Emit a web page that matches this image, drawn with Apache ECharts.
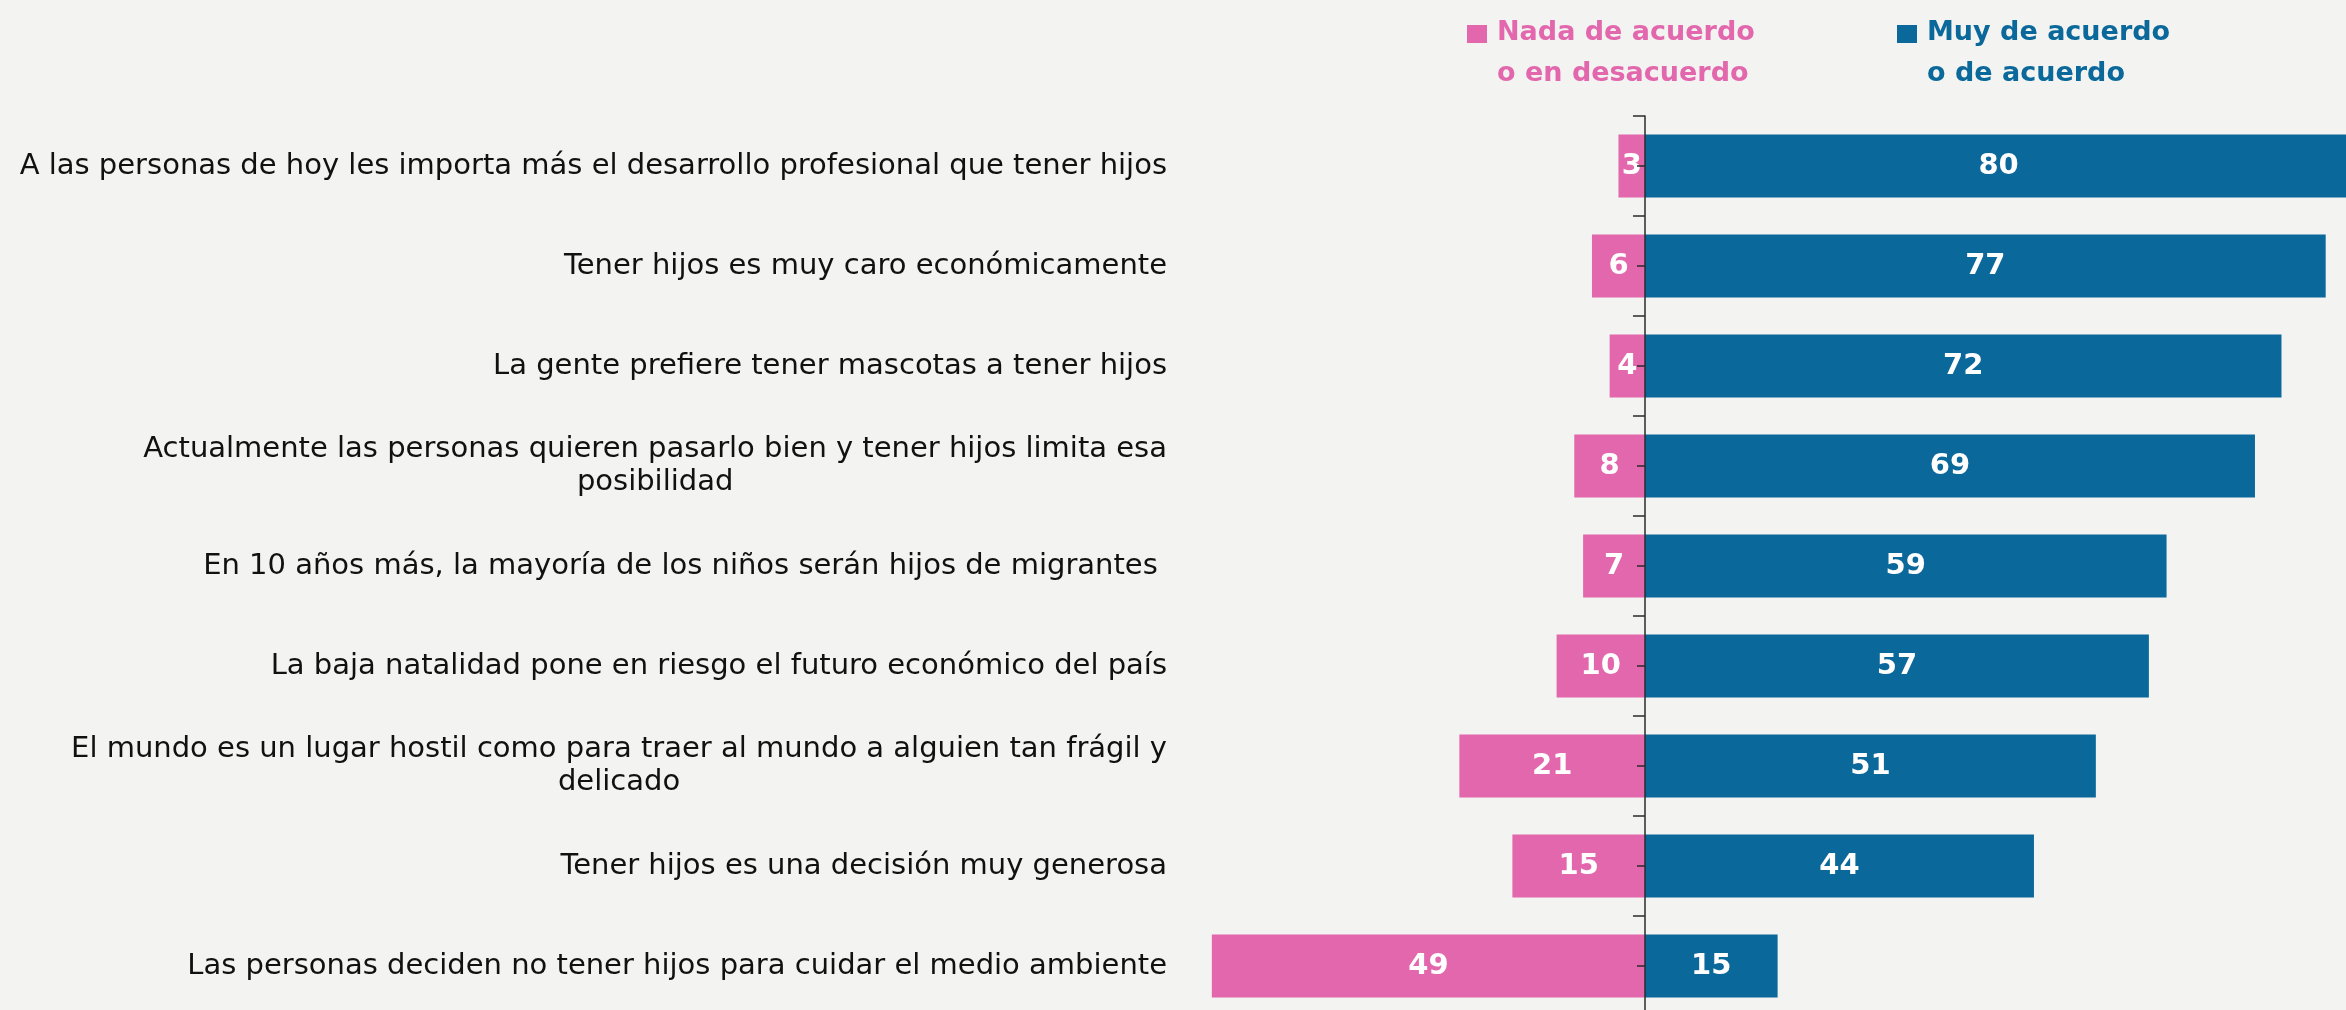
<!DOCTYPE html>
<html>
<head>
<meta charset="utf-8">
<script src="https://cdn.jsdelivr.net/npm/echarts@6/dist/echarts.min.js"></script>
<style>
  html, body { margin: 0; padding: 0; background: #f3f3f1; }
  #chart { width: 2346px; height: 1010px; }
</style>
</head>
<body>
<div id="chart"></div>
<script>
// Statements, top to bottom
const categories = [
  'A las personas de hoy les importa más el desarrollo profesional que tener hijos',
  'Tener hijos es muy caro económicamente',
  'La gente prefiere tener mascotas a tener hijos',
  'Actualmente las personas quieren pasarlo bien y tener hijos limita esa\nposibilidad',
  'En 10 años más, la mayoría de los niños serán hijos de migrantes ',
  'La baja natalidad pone en riesgo el futuro económico del país',
  'El mundo es un lugar hostil como para traer al mundo a alguien tan frágil y\ndelicado',
  'Tener hijos es una decisión muy generosa',
  'Las personas deciden no tener hijos para cuidar el medio ambiente'
];
// Percentages
const disagree = [3, 6, 4, 8, 7, 10, 21, 15, 49];
const agree = [80, 77, 72, 69, 59, 57, 51, 44, 15];

const seriesNames = ['Nada de acuerdo\no en desacuerdo', 'Muy de acuerdo\no de acuerdo'];

const PINK = '#e367ac';
const BLUE = '#0a689a';
const AXIS = '#2b2b2b';
const LABEL_FONT = 'DejaVu Sans';
const BOLD_FONT = 'DejaVu Sans';

// layout: zero line at x = 1645, 8.84 px per percentage point
const PX_PER_UNIT = 8.84;
const ZERO_X = 1645;
const X_MIN = -60;
const X_MAX = 80;
const GRID_LEFT = ZERO_X + X_MIN * PX_PER_UNIT;
const LABEL_RIGHT = 1167;

// square in the top part of a taller box so it sits beside the first legend line
const legendIcon = 'path://M0,0H20V18H0Z M0,56L25,56';

function legendFor(name, color, left) {
  return {
    data: [name],
    left: left,
    top: 12,
    padding: 0,
    orient: 'horizontal',
    icon: legendIcon,
    itemWidth: 25,
    itemHeight: 56,
    selectedMode: false,
    textStyle: {
      color: color,
      fontFamily: BOLD_FONT,
      fontWeight: 'bold',
      fontSize: 27,
      lineHeight: 41
    }
  };
}

const hiddenX = {
  type: 'value',
  min: X_MIN,
  max: X_MAX,
  axisLine: { show: false },
  axisTick: { show: false },
  axisLabel: { show: false },
  splitLine: { show: false }
};

const chart = echarts.init(document.getElementById('chart'), null, { renderer: 'canvas' });

chart.setOption({
  backgroundColor: '#f3f3f1',
  animation: false,
  legend: [
    legendFor(seriesNames[0], PINK, 1467),
    legendFor(seriesNames[1], BLUE, 1897)
  ],
  grid: {
    left: GRID_LEFT,
    top: 116,
    width: (X_MAX - X_MIN) * PX_PER_UNIT,
    height: 900,
    outerBoundsMode: 'none',
    containLabel: false
  },
  // second value axis only gives the mid-row tick axis a zero line to sit on
  xAxis: [
    Object.assign({ position: 'bottom' }, hiddenX),
    Object.assign({ position: 'top' }, hiddenX)
  ],
  yAxis: [
    {
      type: 'category',
      data: categories,
      inverse: true,
      z: 5,
      axisLine: { onZero: true, lineStyle: { color: AXIS, width: 1.5 } },
      axisTick: { show: true, length: 12, lineStyle: { color: AXIS, width: 1.5 } },
      axisLabel: {
        interval: 0,
        // labels are laid out from the grid's left edge
        margin: GRID_LEFT - LABEL_RIGHT,
        align: 'right',
        color: '#111',
        fontFamily: LABEL_FONT,
        fontSize: 29,
        lineHeight: 33,
        formatter: function (v) {
          return v.split('\n').map(function (s) { return '{c|' + s + '}'; }).join('\n');
        },
        rich: {
          c: { align: 'center', fontFamily: LABEL_FONT, fontSize: 29, lineHeight: 33, color: '#111' }
        }
      }
    },
    {
      // ticks at the middle of each row
      type: 'category',
      data: categories,
      inverse: true,
      position: 'left',
      z: 5,
      axisLine: { show: false, onZero: true },
      axisTick: { show: true, alignWithLabel: true, length: 8, lineStyle: { color: AXIS, width: 1.5 } },
      axisLabel: { show: false }
    }
  ],
  series: [
    {
      name: seriesNames[0],
      type: 'bar',
      stack: 'total',
      xAxisIndex: 0,
      yAxisIndex: 0,
      barWidth: 63,
      data: disagree.map(function (v) { return -v; }),
      itemStyle: { color: PINK },
      label: {
        show: true,
        position: 'inside',
        color: '#fff',
        fontFamily: BOLD_FONT,
        fontWeight: 'bold',
        fontSize: 29,
        formatter: function (p) { return Math.abs(p.value); }
      }
    },
    {
      name: seriesNames[1],
      type: 'bar',
      stack: 'total',
      xAxisIndex: 0,
      yAxisIndex: 0,
      barWidth: 63,
      data: agree,
      itemStyle: { color: BLUE },
      label: {
        show: true,
        position: 'inside',
        color: '#fff',
        fontFamily: BOLD_FONT,
        fontWeight: 'bold',
        fontSize: 29,
        formatter: function (p) { return p.value; }
      }
    }
  ]
});
</script>
</body>
</html>
